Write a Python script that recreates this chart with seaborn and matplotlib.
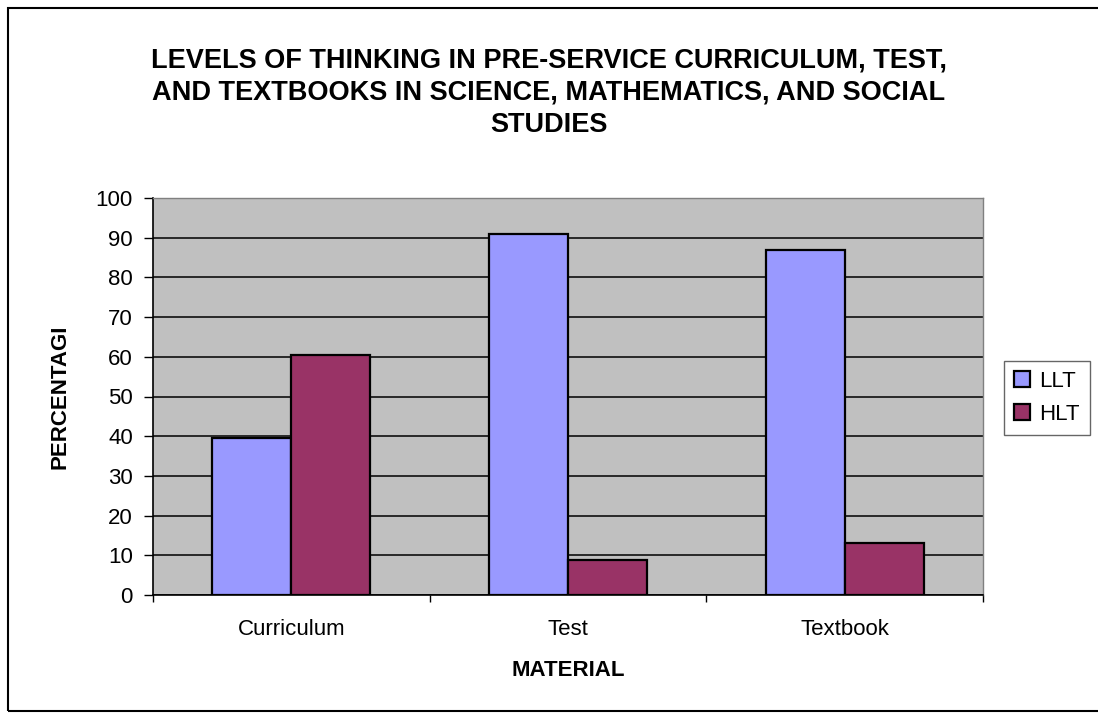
import pandas as pd
import seaborn as sns
import matplotlib.pyplot as plt
from matplotlib.patches import Rectangle

materials = ["Curriculum", "Test", "Textbook"]
series = ["LLT", "HLT"]
llt_values = [39.5, 91.0, 86.8]
hlt_values = [60.5, 8.8, 13.2]
y_ticks = list(range(0, 101, 10))

TITLE = ("LEVELS OF THINKING IN PRE-SERVICE CURRICULUM, TEST,\n"
         "AND TEXTBOOKS IN SCIENCE, MATHEMATICS, AND SOCIAL\n"
         "STUDIES")

df = pd.DataFrame({
    "Material": materials * 2,
    "Series": ["LLT"] * len(materials) + ["HLT"] * len(materials),
    "Percentage": llt_values + hlt_values,
})

sns.set_style("white")
plt.rcParams["font.family"] = ["Liberation Sans", "DejaVu Sans"]
plt.rcParams["text.color"] = "black"
plt.rcParams["axes.labelcolor"] = "black"
plt.rcParams["xtick.color"] = "black"
plt.rcParams["ytick.color"] = "black"

fig = plt.figure(figsize=(10.98, 7.15), dpi=100)
ax = fig.add_axes([153 / 1098, 1 - 595 / 715, 830 / 1098, 397 / 715])
ax.set_facecolor("#C0C0C0")

sns.barplot(data=df, x="Material", y="Percentage", hue="Series",
            hue_order=series, palette=["#9999FF", "#993366"],
            width=0.57, saturation=1, edgecolor="black", linewidth=1.6,
            ax=ax, zorder=3)

ax.set_ylim(0, 100)
ax.set_xlim(-0.5, 2.5)
ax.set_yticks(y_ticks)
ax.yaxis.grid(True, color="black", linewidth=1.1, zorder=0)
ax.set_axisbelow(True)
ax.tick_params(axis="y", direction="out", length=6.5, width=1, labelsize=16,
               pad=8, left=True)

# category axis: ticks between groups, labels at centres
ax.set_xticks([-0.5, 0.5, 1.5, 2.5])
ax.set_xticklabels([])
ax.tick_params(axis="x", which="major", direction="out", length=5, width=1,
               bottom=True)
ax.set_xticks([0, 1, 2], minor=True)
ax.set_xticklabels(materials, minor=True, fontsize=16)
ax.tick_params(axis="x", which="minor", length=0, pad=17)

for side in ["left", "bottom"]:
    ax.spines[side].set_color("black")
    ax.spines[side].set_linewidth(1.2)
for side in ["top", "right"]:
    ax.spines[side].set_color("#808080")
    ax.spines[side].set_linewidth(1)

ax.set_xlabel("MATERIAL", fontsize=16, fontweight="bold", labelpad=15)
ax.set_ylabel("PERCENTAGI", fontsize=16, fontweight="bold", labelpad=18)

leg = ax.legend(loc="center left", bbox_to_anchor=(1.025, 0.497), frameon=True,
                fontsize=16, handlelength=0.75, handleheight=0.75,
                handletextpad=0.4, borderpad=0.45, labelspacing=0.55,
                borderaxespad=0, fancybox=False)
leg.get_frame().set_edgecolor("#404040")
leg.get_frame().set_linewidth(1)

fig.text(0.5, 1 - 93 / 715, TITLE, ha="center", va="center", fontsize=19.5,
         fontweight="bold", linespacing=1.3)

# outer chart border
fig.patches.append(Rectangle((8 / 1098, 1 - 711 / 715), 1.2, 703 / 715,
                             transform=fig.transFigure, fill=False,
                             edgecolor="black", linewidth=1.5))

fig.savefig("out.png", dpi=100)
plt.close(fig)
